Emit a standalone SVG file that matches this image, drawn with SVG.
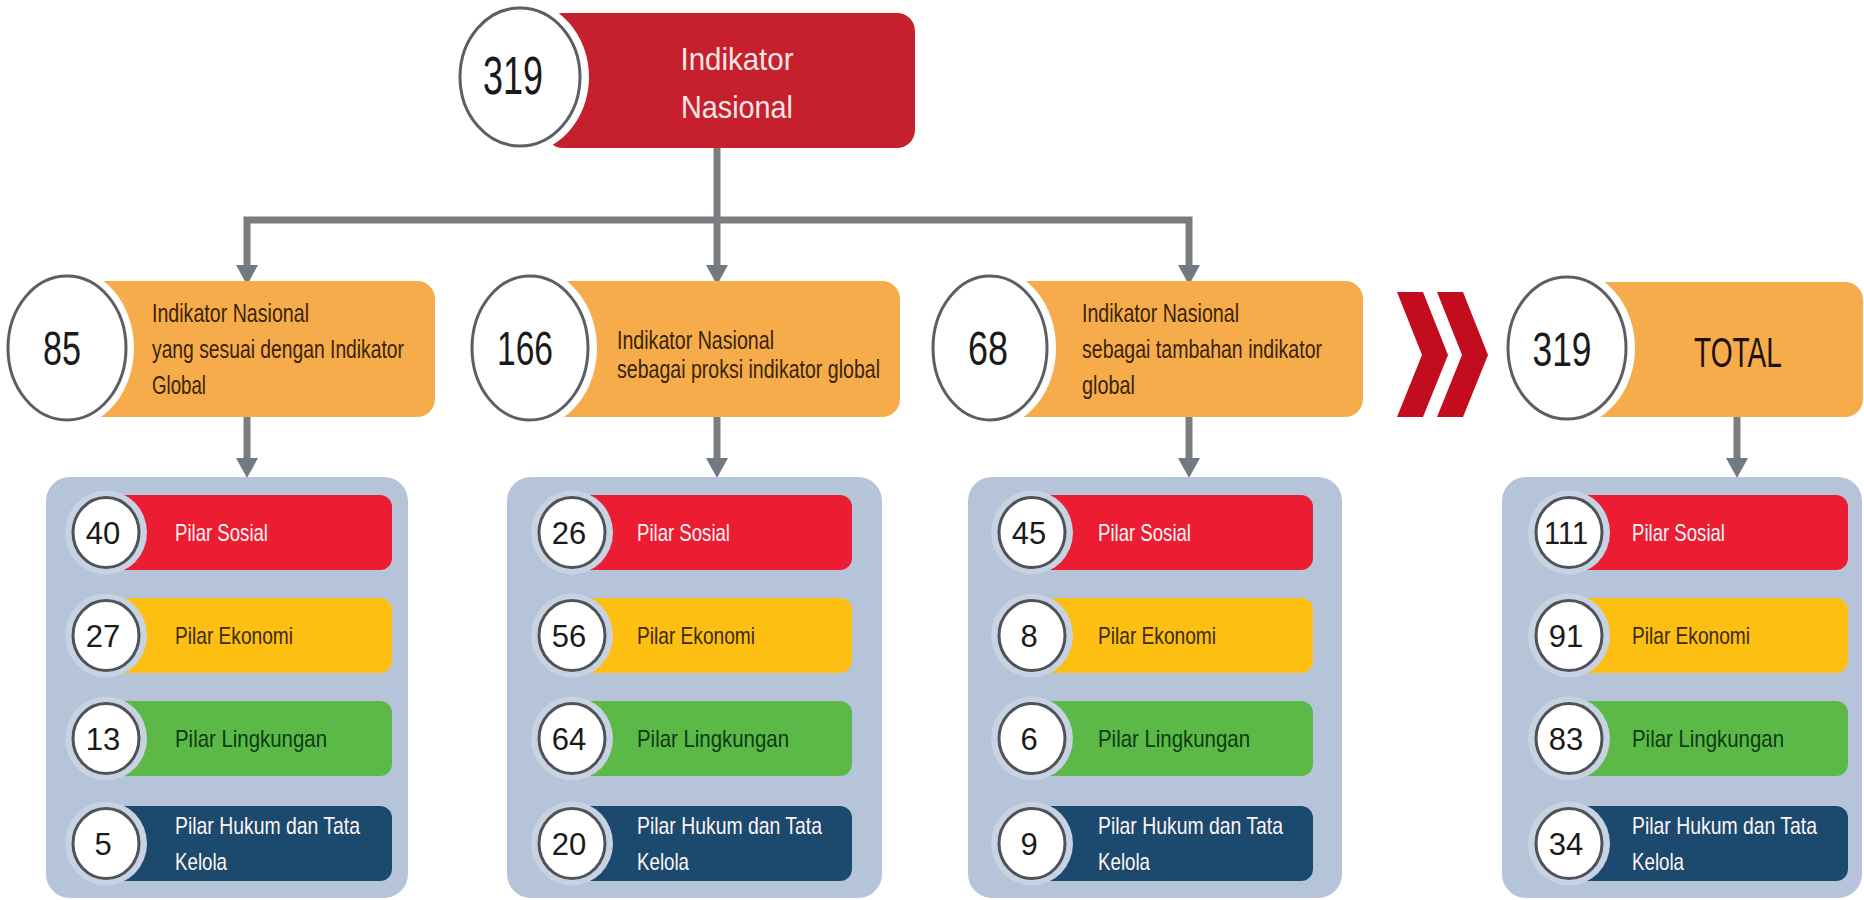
<svg xmlns="http://www.w3.org/2000/svg" width="1864" height="900" viewBox="0 0 1864 900">
<style>
text{font-family:"Liberation Sans",Arial,sans-serif;}
.bigc{fill:#ffffff;stroke:#5b5f64;stroke-width:3;}
.halo{fill:#ffffff;}
.orange{fill:#f6ac4b;}
.panel{fill:#b5c4d8;}
.phalo{fill:#c7d2e2;}
.sc{fill:#ffffff;stroke:#4f5358;stroke-width:3;}
.red{fill:#ec1c33;}
.yel{fill:#fcbf12;}
.grn{fill:#5cb947;}
.nav{fill:#1b4a6e;}
.num{font-size:31px;fill:#1a1a1a;text-anchor:middle;}
.bnum{font-size:48px;fill:#1a1a1a;text-anchor:middle;}
.otx{font-size:25px;fill:#3a2406;}
.t-w{font-size:24px;fill:#fff4f4;}
.t-e{font-size:24px;fill:#3b2a05;}
.t-g{font-size:24px;fill:#0c3b12;}
.conn{fill:none;stroke:#7b7c80;stroke-width:7;stroke-linejoin:miter;}
.chev{fill:#c30d1f;}
</style>
<defs>
<marker id="ah" viewBox="0 0 20 22" refX="0" refY="11" markerWidth="20" markerHeight="22" markerUnits="userSpaceOnUse" orient="auto-start-reverse">
<path d="M0,0 L20,11 L0,22 z" fill="#737980"/>
</marker>
</defs>

<g id="connectors">
<path class="conn" d="M717,147 V265" marker-end="url(#ah)"/>
<path class="conn" d="M247,265 V220 H1189 V265" marker-start="url(#ah)" marker-end="url(#ah)"/>
<path class="conn" d="M247,417 V458" marker-end="url(#ah)"/>
<path class="conn" d="M717,417 V458" marker-end="url(#ah)"/>
<path class="conn" d="M1189,417 V458" marker-end="url(#ah)"/>
<path class="conn" d="M1737,417 V458" marker-end="url(#ah)"/>
</g>

<g id="node-top">
<rect x="545" y="13" width="370" height="135" rx="18" fill="#c61f2e"/>
<ellipse class="halo" cx="520" cy="77" rx="69" ry="77"/>
<ellipse class="bigc" cx="520" cy="77" rx="60" ry="69"/>
<text class="bnum" x="513" y="94" style="font-size:54px" textLength="60" lengthAdjust="spacingAndGlyphs">319</text>
<text x="737" y="70" text-anchor="middle" style="font-size:32px;fill:#fbe6e6" textLength="113" lengthAdjust="spacingAndGlyphs">Indikator</text>
<text x="737" y="118" text-anchor="middle" style="font-size:32px;fill:#fbe6e6" textLength="112" lengthAdjust="spacingAndGlyphs">Nasional</text>
</g>

<g id="node-85">
<rect class="orange" x="70" y="281" width="365" height="136" rx="18"/>
<ellipse class="halo" cx="67" cy="348" rx="67" ry="80"/>
<ellipse class="bigc" cx="67" cy="348" rx="59" ry="72"/>
<text class="bnum" x="62" y="365" textLength="38" lengthAdjust="spacingAndGlyphs">85</text>
<text class="otx" x="152" y="322" textLength="157" lengthAdjust="spacingAndGlyphs">Indikator Nasional</text>
<text class="otx" x="152" y="358" textLength="252" lengthAdjust="spacingAndGlyphs">yang sesuai dengan Indikator</text>
<text class="otx" x="152" y="394" textLength="54" lengthAdjust="spacingAndGlyphs">Global</text>
</g>

<g id="node-166">
<rect class="orange" x="530" y="281" width="370" height="136" rx="18"/>
<ellipse class="halo" cx="530" cy="348" rx="67" ry="80"/>
<ellipse class="bigc" cx="530" cy="348" rx="58" ry="72"/>
<text class="bnum" x="525" y="365" textLength="56" lengthAdjust="spacingAndGlyphs">166</text>
<text class="otx" x="617" y="349" textLength="157" lengthAdjust="spacingAndGlyphs">Indikator Nasional</text>
<text class="otx" x="617" y="378" textLength="263" lengthAdjust="spacingAndGlyphs">sebagai proksi indikator global</text>
</g>

<g id="node-68">
<rect class="orange" x="990" y="281" width="373" height="136" rx="18"/>
<ellipse class="halo" cx="990" cy="348" rx="66" ry="80"/>
<ellipse class="bigc" cx="990" cy="348" rx="57" ry="72"/>
<text class="bnum" x="988" y="365" textLength="40" lengthAdjust="spacingAndGlyphs">68</text>
<text class="otx" x="1082" y="322" textLength="157" lengthAdjust="spacingAndGlyphs">Indikator Nasional</text>
<text class="otx" x="1082" y="358" textLength="240" lengthAdjust="spacingAndGlyphs">sebagai tambahan indikator</text>
<text class="otx" x="1082" y="394" textLength="53" lengthAdjust="spacingAndGlyphs">global</text>
</g>

<g id="chevrons">
<polygon class="chev" points="1397,292 1423,292 1448,355 1423,417 1397,417 1422,355"/>
<polygon class="chev" points="1437,292 1463,292 1488,355 1463,417 1437,417 1462,355"/>
</g>

<g id="node-total">
<rect class="orange" x="1567" y="282" width="296" height="135" rx="18"/>
<ellipse class="halo" cx="1567" cy="348" rx="68" ry="79"/>
<ellipse class="bigc" cx="1567" cy="348" rx="59" ry="71"/>
<text class="bnum" x="1562" y="366" textLength="59" lengthAdjust="spacingAndGlyphs">319</text>
<text x="1738" y="367" text-anchor="middle" style="font-size:42px;fill:#1a1208" textLength="88" lengthAdjust="spacingAndGlyphs">TOTAL</text>
</g>

<!-- Panel 1 -->
<g id="panel-1">
<rect class="panel" x="46" y="477" width="362" height="421" rx="24"/>
<g id="p1-sosial">
<rect class="red" x="106" y="495" width="286" height="75" rx="12"/>
<ellipse class="phalo" cx="106" cy="532.5" rx="41" ry="42"/>
<ellipse class="sc" cx="106" cy="532.5" rx="33" ry="35"/>
<text class="num" x="103" y="544">40</text>
<text class="t-w" x="175" y="541" textLength="93" lengthAdjust="spacingAndGlyphs">Pilar Sosial</text>
</g>
<g id="p1-ekonomi">
<rect class="yel" x="106" y="598" width="286" height="75" rx="12"/>
<ellipse class="phalo" cx="106" cy="635.5" rx="41" ry="42"/>
<ellipse class="sc" cx="106" cy="635.5" rx="33" ry="35"/>
<text class="num" x="103" y="647">27</text>
<text class="t-e" x="175" y="644" textLength="118" lengthAdjust="spacingAndGlyphs">Pilar Ekonomi</text>
</g>
<g id="p1-lingkungan">
<rect class="grn" x="106" y="701" width="286" height="75" rx="12"/>
<ellipse class="phalo" cx="106" cy="738.5" rx="41" ry="42"/>
<ellipse class="sc" cx="106" cy="738.5" rx="33" ry="35"/>
<text class="num" x="103" y="750">13</text>
<text class="t-g" x="175" y="747" textLength="152" lengthAdjust="spacingAndGlyphs">Pilar Lingkungan</text>
</g>
<g id="p1-hukum">
<rect class="nav" x="106" y="806" width="286" height="75" rx="12"/>
<ellipse class="phalo" cx="106" cy="843.5" rx="41" ry="42"/>
<ellipse class="sc" cx="106" cy="843.5" rx="33" ry="35"/>
<text class="num" x="103" y="855">5</text>
<text class="t-w" x="175" y="834" textLength="185" lengthAdjust="spacingAndGlyphs">Pilar Hukum dan Tata</text>
<text class="t-w" x="175" y="870" textLength="52" lengthAdjust="spacingAndGlyphs">Kelola</text>
</g>
</g>

<!-- Panel 2 -->
<g id="panel-2">
<rect class="panel" x="507" y="477" width="375" height="421" rx="24"/>
<g id="p2-sosial">
<rect class="red" x="572" y="495" width="280" height="75" rx="12"/>
<ellipse class="phalo" cx="572" cy="532.5" rx="41" ry="42"/>
<ellipse class="sc" cx="572" cy="532.5" rx="33" ry="35"/>
<text class="num" x="569" y="544">26</text>
<text class="t-w" x="637" y="541" textLength="93" lengthAdjust="spacingAndGlyphs">Pilar Sosial</text>
</g>
<g id="p2-ekonomi">
<rect class="yel" x="572" y="598" width="280" height="75" rx="12"/>
<ellipse class="phalo" cx="572" cy="635.5" rx="41" ry="42"/>
<ellipse class="sc" cx="572" cy="635.5" rx="33" ry="35"/>
<text class="num" x="569" y="647">56</text>
<text class="t-e" x="637" y="644" textLength="118" lengthAdjust="spacingAndGlyphs">Pilar Ekonomi</text>
</g>
<g id="p2-lingkungan">
<rect class="grn" x="572" y="701" width="280" height="75" rx="12"/>
<ellipse class="phalo" cx="572" cy="738.5" rx="41" ry="42"/>
<ellipse class="sc" cx="572" cy="738.5" rx="33" ry="35"/>
<text class="num" x="569" y="750">64</text>
<text class="t-g" x="637" y="747" textLength="152" lengthAdjust="spacingAndGlyphs">Pilar Lingkungan</text>
</g>
<g id="p2-hukum">
<rect class="nav" x="572" y="806" width="280" height="75" rx="12"/>
<ellipse class="phalo" cx="572" cy="843.5" rx="41" ry="42"/>
<ellipse class="sc" cx="572" cy="843.5" rx="33" ry="35"/>
<text class="num" x="569" y="855">20</text>
<text class="t-w" x="637" y="834" textLength="185" lengthAdjust="spacingAndGlyphs">Pilar Hukum dan Tata</text>
<text class="t-w" x="637" y="870" textLength="52" lengthAdjust="spacingAndGlyphs">Kelola</text>
</g>
</g>

<!-- Panel 3 -->
<g id="panel-3">
<rect class="panel" x="968" y="477" width="374" height="421" rx="24"/>
<g id="p3-sosial">
<rect class="red" x="1032" y="495" width="281" height="75" rx="12"/>
<ellipse class="phalo" cx="1032" cy="532.5" rx="41" ry="42"/>
<ellipse class="sc" cx="1032" cy="532.5" rx="33" ry="35"/>
<text class="num" x="1029" y="544">45</text>
<text class="t-w" x="1098" y="541" textLength="93" lengthAdjust="spacingAndGlyphs">Pilar Sosial</text>
</g>
<g id="p3-ekonomi">
<rect class="yel" x="1032" y="598" width="281" height="75" rx="12"/>
<ellipse class="phalo" cx="1032" cy="635.5" rx="41" ry="42"/>
<ellipse class="sc" cx="1032" cy="635.5" rx="33" ry="35"/>
<text class="num" x="1029" y="647">8</text>
<text class="t-e" x="1098" y="644" textLength="118" lengthAdjust="spacingAndGlyphs">Pilar Ekonomi</text>
</g>
<g id="p3-lingkungan">
<rect class="grn" x="1032" y="701" width="281" height="75" rx="12"/>
<ellipse class="phalo" cx="1032" cy="738.5" rx="41" ry="42"/>
<ellipse class="sc" cx="1032" cy="738.5" rx="33" ry="35"/>
<text class="num" x="1029" y="750">6</text>
<text class="t-g" x="1098" y="747" textLength="152" lengthAdjust="spacingAndGlyphs">Pilar Lingkungan</text>
</g>
<g id="p3-hukum">
<rect class="nav" x="1032" y="806" width="281" height="75" rx="12"/>
<ellipse class="phalo" cx="1032" cy="843.5" rx="41" ry="42"/>
<ellipse class="sc" cx="1032" cy="843.5" rx="33" ry="35"/>
<text class="num" x="1029" y="855">9</text>
<text class="t-w" x="1098" y="834" textLength="185" lengthAdjust="spacingAndGlyphs">Pilar Hukum dan Tata</text>
<text class="t-w" x="1098" y="870" textLength="52" lengthAdjust="spacingAndGlyphs">Kelola</text>
</g>
</g>

<!-- Panel 4 -->
<g id="panel-4">
<rect class="panel" x="1502" y="477" width="360" height="421" rx="24"/>
<g id="p4-sosial">
<rect class="red" x="1569" y="495" width="279" height="75" rx="12"/>
<ellipse class="phalo" cx="1569" cy="532.5" rx="41" ry="42"/>
<ellipse class="sc" cx="1569" cy="532.5" rx="33" ry="35"/>
<text class="num" x="1566" y="544" textLength="44" lengthAdjust="spacingAndGlyphs">111</text>
<text class="t-w" x="1632" y="541" textLength="93" lengthAdjust="spacingAndGlyphs">Pilar Sosial</text>
</g>
<g id="p4-ekonomi">
<rect class="yel" x="1569" y="598" width="279" height="75" rx="12"/>
<ellipse class="phalo" cx="1569" cy="635.5" rx="41" ry="42"/>
<ellipse class="sc" cx="1569" cy="635.5" rx="33" ry="35"/>
<text class="num" x="1566" y="647">91</text>
<text class="t-e" x="1632" y="644" textLength="118" lengthAdjust="spacingAndGlyphs">Pilar Ekonomi</text>
</g>
<g id="p4-lingkungan">
<rect class="grn" x="1569" y="701" width="279" height="75" rx="12"/>
<ellipse class="phalo" cx="1569" cy="738.5" rx="41" ry="42"/>
<ellipse class="sc" cx="1569" cy="738.5" rx="33" ry="35"/>
<text class="num" x="1566" y="750">83</text>
<text class="t-g" x="1632" y="747" textLength="152" lengthAdjust="spacingAndGlyphs">Pilar Lingkungan</text>
</g>
<g id="p4-hukum">
<rect class="nav" x="1569" y="806" width="279" height="75" rx="12"/>
<ellipse class="phalo" cx="1569" cy="843.5" rx="41" ry="42"/>
<ellipse class="sc" cx="1569" cy="843.5" rx="33" ry="35"/>
<text class="num" x="1566" y="855">34</text>
<text class="t-w" x="1632" y="834" textLength="185" lengthAdjust="spacingAndGlyphs">Pilar Hukum dan Tata</text>
<text class="t-w" x="1632" y="870" textLength="52" lengthAdjust="spacingAndGlyphs">Kelola</text>
</g>
</g>
</svg>
